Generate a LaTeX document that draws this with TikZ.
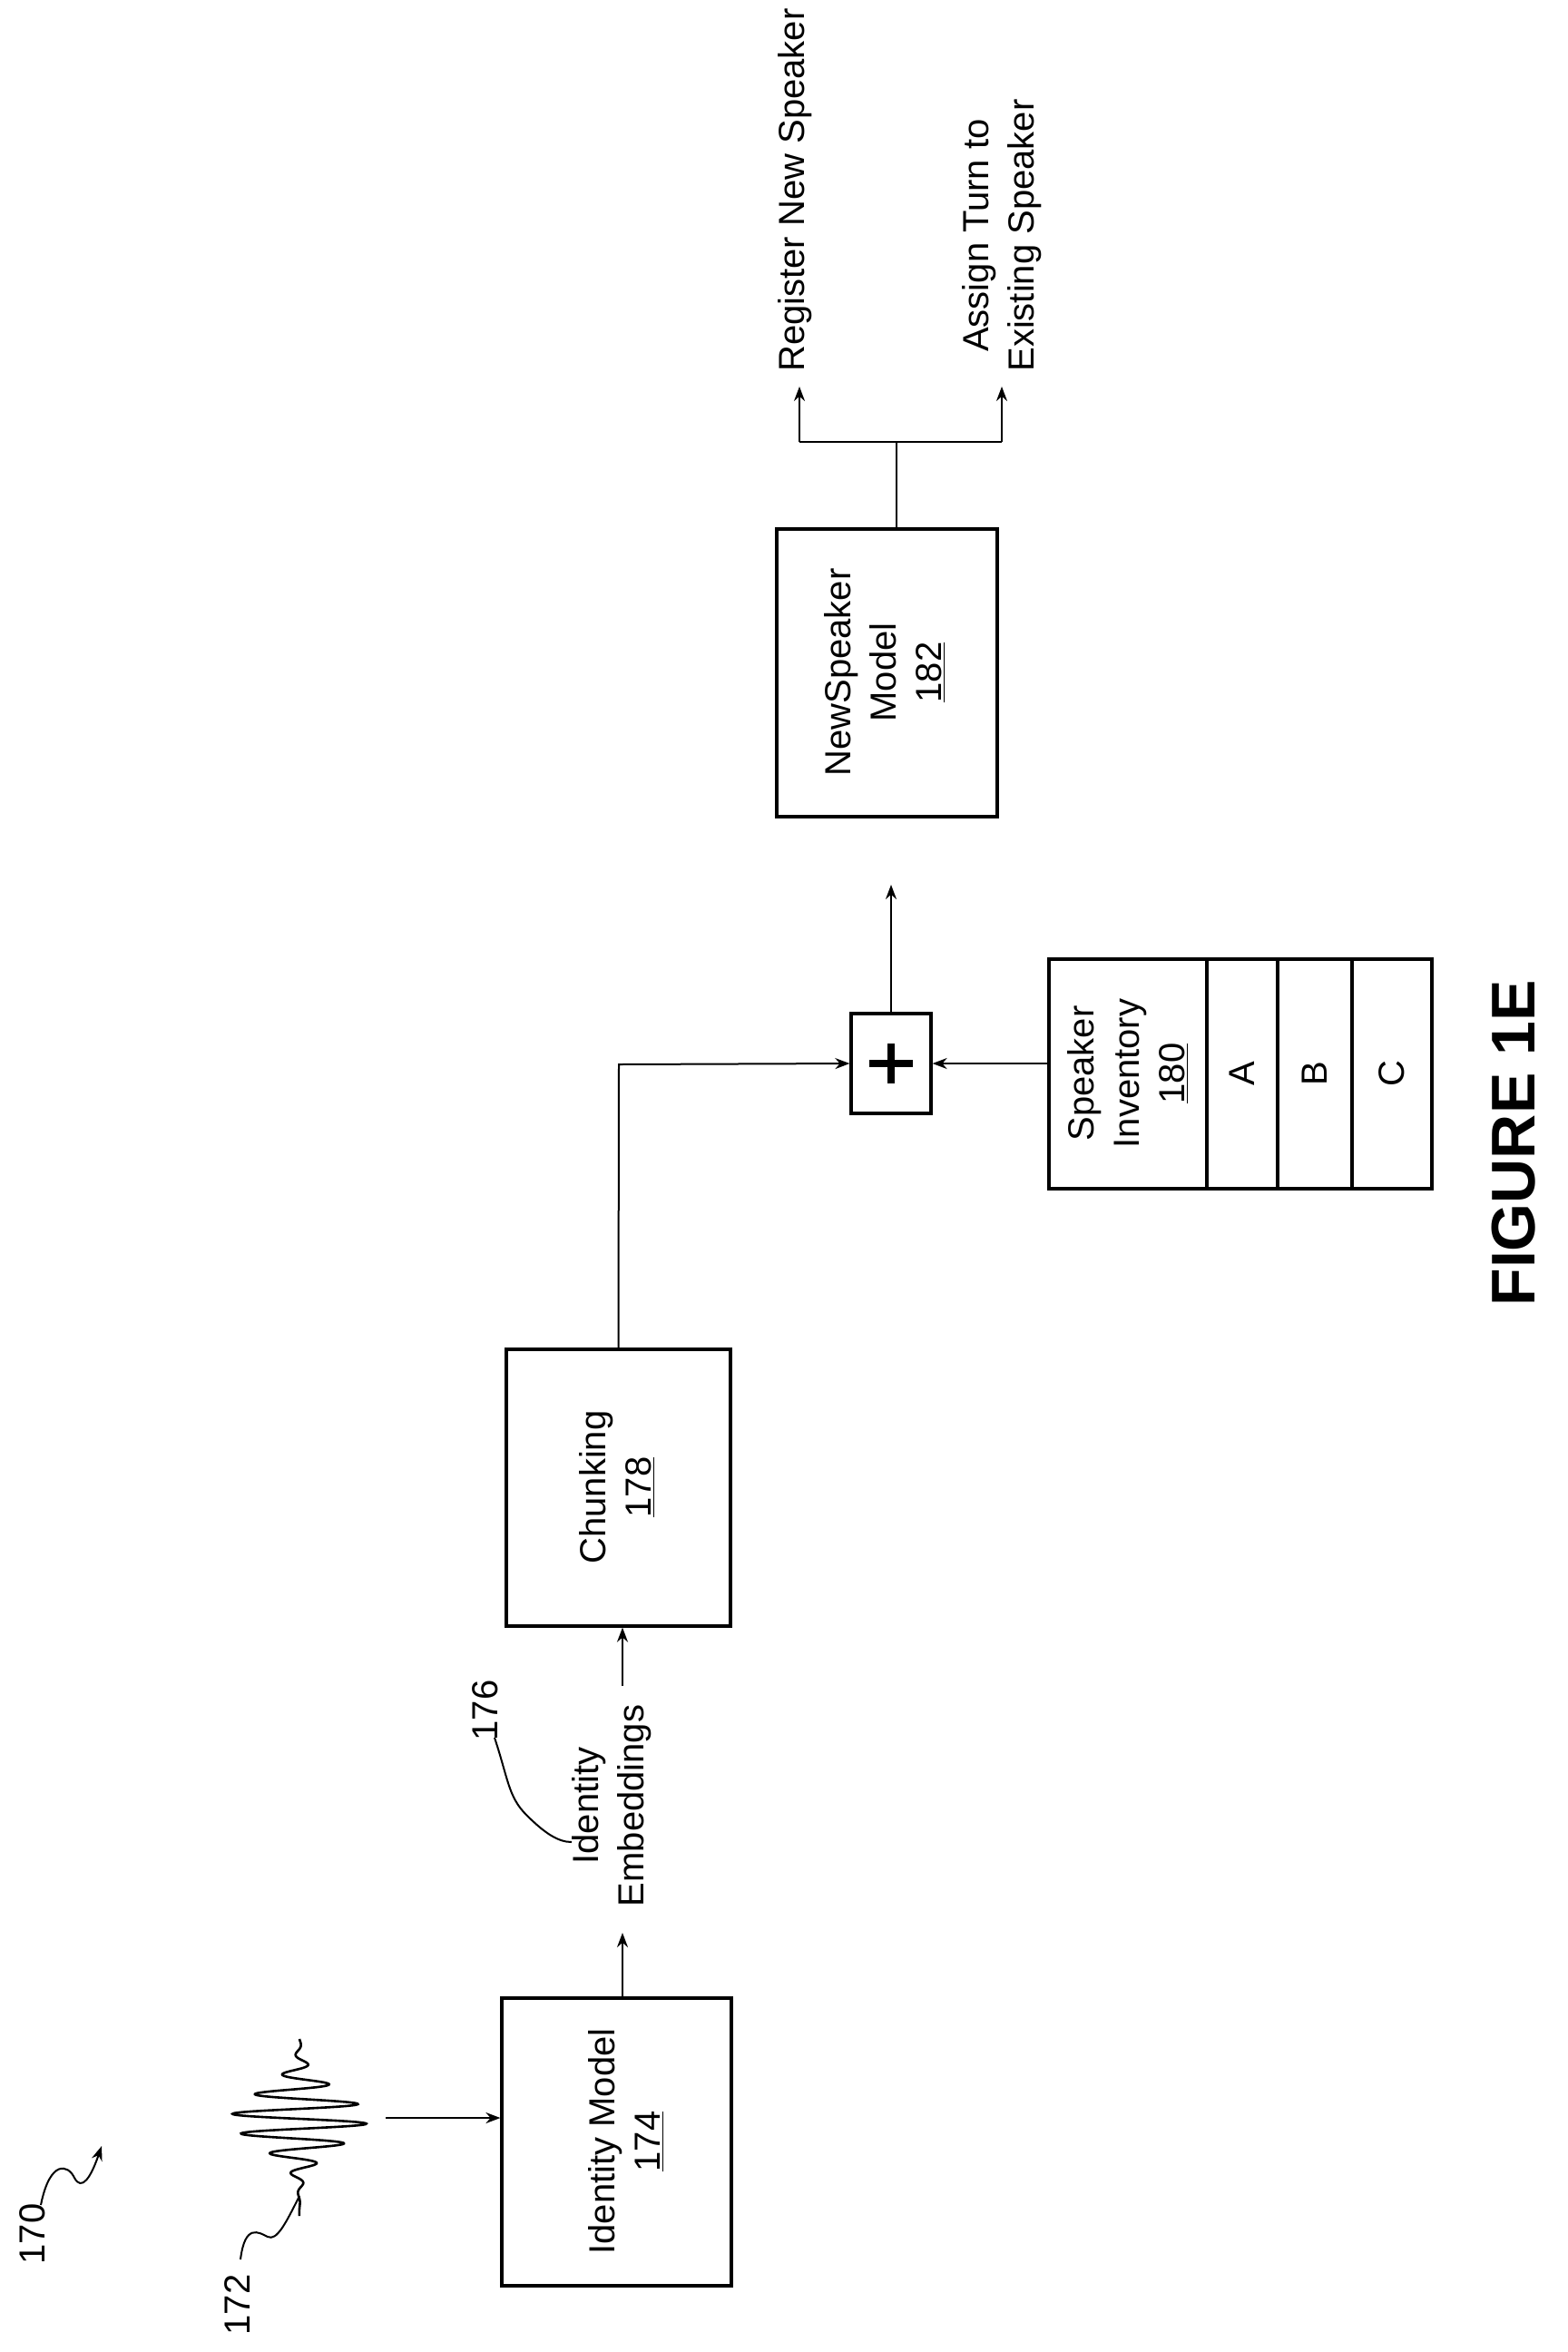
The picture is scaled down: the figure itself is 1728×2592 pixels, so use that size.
\documentclass[tikz,border=0pt]{standalone}
\usepackage{fontspec}
\setmainfont{Liberation Sans}
\usetikzlibrary{arrows.meta}
\begin{document}
\begin{tikzpicture}[x=0.5pt,y=-0.5pt,
  box/.style={draw,line width=1.6pt,minimum width=#1,inner sep=0pt},
  lbl/.style={rotate=90,font=\fontsize{20}{25}\selectfont,align=center,inner sep=1pt},
  con/.style={line width=1pt},
  arr/.style={line width=1pt,-{Stealth[length=8pt,width=6pt]}}]
\useasboundingbox (0,0) rectangle (1728,2592);
% boxes
\node[box=126.5pt,minimum height=158.5pt] (idm) at (679.5,2360.5) {};
\node[box=123.5pt,minimum height=152.5pt] (chk) at (681.5,1639.5) {};
\node[box=44pt,minimum height=55pt] (plus) at (982,1172) {};
\node[box=121.5pt,minimum height=158.5pt] (nsm) at (977.5,741.5) {};
\node[box=211pt,minimum height=126.5pt] (inv) at (1367,1183.5) {};
\draw[line width=1.6pt] (1330,1057) -- (1330,1310) (1408,1057) -- (1408,1310) (1490,1057) -- (1490,1310);
% texts
\node[lbl] (tidm) at (690,2360) {Identity Model\\\underline{174}};
\node[lbl] (tchk) at (680,1639) {Chunking\\\underline{178}};
\node[lbl] (tnsm) at (975,741) {NewSpeaker\\Model\\\underline{182}};
\node[lbl] (tinv) at (1243,1183) {Speaker\\Inventory\\\underline{180}};
\node[lbl] (ta) at (1369,1183) {A};
\node[lbl] (tb) at (1449,1183) {B};
\node[lbl] (tc) at (1534,1183) {C};
\node[lbl] (emb) at (674,1990) {Identity\\Embeddings};
\node[lbl,anchor=west] (reg) at (876,412) {Register New Speaker};
\node[lbl,anchor=west] (asg) at (1104,412) {Assign Turn to\\Existing Speaker};
\node[lbl] (n170) at (36,2462) {170};
\node[lbl] (n172) at (262,2540) {172};
\node[lbl] (n176) at (535,1885) {176};
\node[rotate=90,font=\bfseries\fontsize{34}{40}\selectfont] (fig) at (1668,1260) {FIGURE 1E};
% plus sign
\draw[line width=4pt] (958,1172) -- (1006,1172) (982,1150) -- (982,1194);
% connectors
\coordinate (e1) at (686,2130);
\coordinate (e2) at (686,1858);
\draw[arr] (idm.north -| e1) -- (e1);
\draw[arr] (e2) -- (chk.south -| e2);
\draw[arr] (chk.north) -- (682,1173) -- (plus.west);
\draw[arr] (inv.west |- plus.east) -- (plus.east);
\coordinate (p1) at (982,975);
\draw[arr] (plus.north) -- (p1);
\coordinate (b) at (988,487);
\draw[con] (nsm.north -| b) -- (b);
\draw[arr] (881,487) -- (881,426);
\draw[con] (881,487) -- (1104,487);
\draw[arr] (1104,487) -- (1104,426);
% waveform
\begin{scope}[shift={(330,2335)}]
\draw[line width=1.3pt] plot[domain=-88:107,samples=400] ({75*exp(-(\x/42)*(\x/42))*sin(16.36*\x)},\x);
\end{scope}
\draw[arr] (425,2334) -- (idm.west |- 0,2334);
% squiggles
\draw[arr] (45,2430) .. controls (55,2380) and (75,2385) .. (82,2400) .. controls (90,2415) and (100,2400) .. (112,2365);
\draw[con] (265,2490) .. controls (270,2450) and (285,2460) .. (295,2465) .. controls (305,2470) and (315,2450) .. (330,2420);
\draw[con] (545,1915) .. controls (560,1960) and (560,1980) .. (580,2000) .. controls (600,2020) and (615,2030) .. (630,2030);
\end{tikzpicture}
\end{document}
